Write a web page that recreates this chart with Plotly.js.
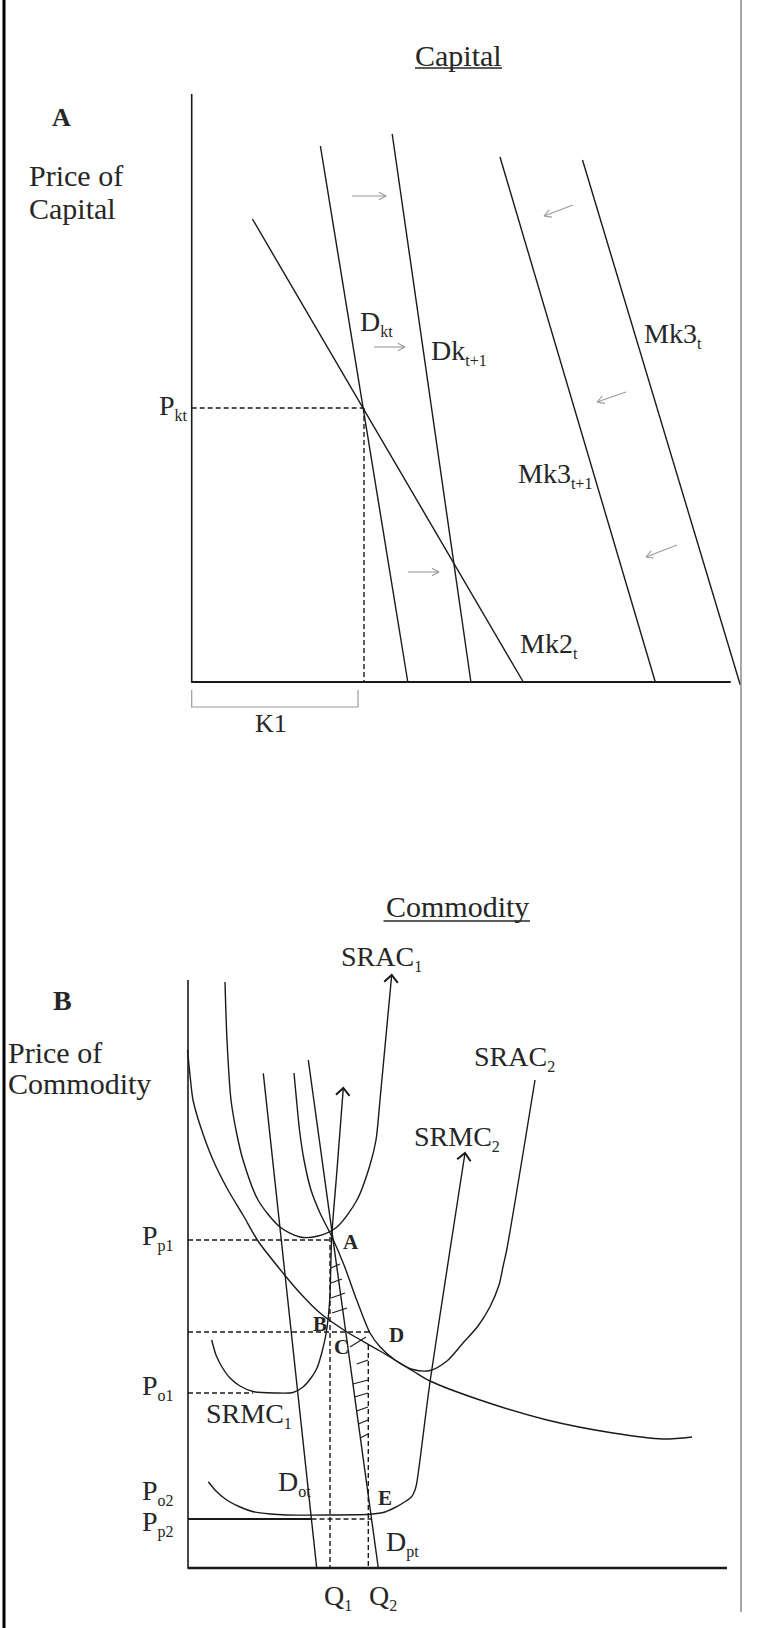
<!DOCTYPE html>
<html><head><meta charset="utf-8">
<script src="https://cdn.plot.ly/plotly-3.0.1.min.js"></script>
<style>html,body{margin:0;padding:0;background:#fff;}#chart{width:762px;height:1628px;}</style>
</head><body><div id="chart"></div>
<script>
// ===== Panel A : Capital =====
const capAxisX = [191.7, 191.7, 730.6];
const capAxisY = [94, 682, 682];
const mk2tX = [252.4, 523.3],  mk2tY = [219, 682];
const dktX = [320.4, 407.8],   dktY = [146, 682];
const dkt1X = [392.2, 470.9],  dkt1Y = [134, 682];
const mk3t1X = [500, 655.3],   mk3t1Y = [157, 682];
const mk3tX = [582.5, 740.3],  mk3tY = [160, 685];
const pktLevel = 408;
const k1Level = 364;
const k1BracketX = [191.7, 191.7, 358, 358];
const k1BracketY = [690, 707, 707, 690];
// shift arrows [x0, y0, x1, y1]
const shiftArrows = [
  [352, 196, 386, 196],
  [573, 205, 544, 216],
  [374, 347, 405, 347],
  [626, 392, 597, 402],
  [408, 572, 439, 572],
  [677, 545, 646, 557]
];

// ===== Panel B : Commodity =====
const comAxisX = [188, 188, 727];
const comAxisY = [980, 1568, 1568];
const lracX = [187.5, 190, 193, 200, 213, 228, 243, 258, 283, 300, 320, 347, 380, 413, 430, 480, 547, 613, 663, 692];
const lracY = [1050, 1075, 1100, 1125, 1160, 1190, 1215, 1241, 1273, 1293, 1313, 1332, 1351, 1371, 1381, 1400, 1420, 1433, 1439, 1437];
const srac1X = [225, 227, 231, 237, 243, 258, 280, 300, 318, 337, 357, 370, 376, 380, 391.7];
const srac1Y = [982, 1040, 1100, 1135, 1160, 1200, 1227, 1237, 1236, 1227, 1200, 1165, 1140, 1100, 975];
const srmc1X = [211.7, 216, 222, 230, 240, 253, 275, 293, 303, 311, 317, 322, 326, 328.5, 330, 331.7, 337, 343.3];
const srmc1Y = [1340, 1355, 1367, 1378, 1386, 1391.5, 1393, 1392.5, 1387, 1378, 1368, 1352, 1334, 1315, 1295, 1237, 1170, 1088];
const srac2X = [294, 296.5, 299.5, 304, 311, 320, 332, 344, 356.7, 370, 380, 395, 413, 430, 447, 463, 478, 490, 499, 503, 506.7, 535];
const srac2Y = [1073, 1100, 1130, 1160, 1190, 1213, 1237, 1265, 1300, 1333, 1346.7, 1360, 1369.5, 1370.5, 1361, 1343, 1326, 1306.7, 1285, 1266.7, 1250, 1080];
const srmc2X = [208.3, 216, 226.7, 240, 253.3, 270, 286.7, 330, 370, 385, 396.7, 406, 411.7, 415, 416.7, 430, 450, 465];
const srmc2Y = [1481.7, 1491, 1500, 1507, 1511.7, 1514, 1515, 1515, 1514.3, 1512, 1506.7, 1501, 1496.7, 1490, 1483.3, 1382, 1250, 1153];
const dotX = [263.3, 316.7], dotY = [1073.3, 1568];
const dptX = [308.3, 378.3], dptY = [1060, 1568];
const pp1Level = 1240, bdLevel = 1332, po1Level = 1393, pp2Level = 1519;
const q1 = 330, q2 = 368.3;
// hatch ticks [x0, y0, x1, y1]
const hatch = [
  [331, 1268, 340, 1264],
  [331, 1283, 342, 1279],
  [331, 1298, 345, 1293],
  [332, 1313, 347, 1308],
  [350, 1347, 366, 1337],
  [356.7, 1364, 368, 1360],
  [353, 1384, 368, 1380],
  [354.5, 1397, 368, 1393],
  [356.5, 1411, 368, 1407],
  [358.3, 1424, 368, 1420],
  [360.2, 1438, 368, 1434]
];

const INK = '#1a1a1a';
const TXT = '#262626';
const FONT = 'Liberation Serif, Times New Roman, serif';

const traces = [];
function line(x, y, opt) {
  opt = opt || {};
  traces.push({
    type: 'scatter', mode: 'lines', x: x, y: y, hoverinfo: 'skip', showlegend: false,
    line: {color: opt.color || INK, width: opt.width || 1.4, dash: opt.dash || 'solid',
           shape: opt.spline ? 'spline' : 'linear', smoothing: opt.spline ? 0.8 : undefined}
  });
}
function chevron(x0, y0, x1, y1, L, ang) {
  const dx = x1 - x0, dy = y1 - y0, d = Math.hypot(dx, dy);
  const ux = dx / d, uy = dy / d;
  const c = Math.cos(ang), s = Math.sin(ang);
  const ax = ux * c - uy * s, ay = ux * s + uy * c;
  const bx = ux * c + uy * s, by = -ux * s + uy * c;
  return {x: [x1 - L * ax, x1, x1 - L * bx], y: [y1 - L * ay, y1, y1 - L * by]};
}
function curveArrow(x, y) {
  const n = x.length;
  const h = chevron(x[n - 2], y[n - 2], x[n - 1], y[n - 1], 10, 0.75);
  line(h.x, h.y, {width: 2});
}

// Panel A
line(capAxisX, capAxisY, {width: 1.6});
line([capAxisX[1], capAxisX[2]], [capAxisY[1], capAxisY[2]], {width: 2.2});
line(mk2tX, mk2tY);
line(dktX, dktY);
line(dkt1X, dkt1Y);
line(mk3t1X, mk3t1Y);
line(mk3tX, mk3tY);
line([capAxisX[0], k1Level], [pktLevel, pktLevel], {dash: '5px,3px'});
line([k1Level, k1Level], [pktLevel, capAxisY[1]], {dash: '5px,3px'});
line(k1BracketX, k1BracketY, {color: '#9a9a9a', width: 1.2});
shiftArrows.forEach(a => {
  line([a[0], a[2]], [a[1], a[3]], {color: '#9a9a9a', width: 1.1});
  const h = chevron(a[0], a[1], a[2], a[3], 8, 0.5);
  line(h.x, h.y, {color: '#9a9a9a', width: 1.1});
});

// Panel B
line(comAxisX, comAxisY, {width: 1.6});
line([comAxisX[1], comAxisX[2]], [comAxisY[1], comAxisY[2]], {width: 2.4});
line(lracX, lracY, {spline: true});
line(srac1X, srac1Y, {spline: true});
curveArrow(srac1X, srac1Y);
line(srmc1X, srmc1Y, {spline: true});
curveArrow(srmc1X, srmc1Y);
line(srac2X, srac2Y, {spline: true});
line(srmc2X, srmc2Y, {spline: true});
curveArrow(srmc2X, srmc2Y);
line(dotX, dotY);
line(dptX, dptY);
line([comAxisX[0], q1], [pp1Level, pp1Level], {dash: '5px,3px'});
line([comAxisX[0], 370], [bdLevel, bdLevel], {dash: '5px,3px'});
line([comAxisX[0], 253], [po1Level, po1Level], {dash: '5px,3px'});
line([comAxisX[0], 311.5], [pp2Level, pp2Level], {width: 2});
line([311.5, 371], [pp2Level, pp2Level], {dash: '5px,3px'});
line([q1, q1], [1237, comAxisY[1]], {dash: '5px,3px'});
line([q2, q2], [1345, comAxisY[1]], {dash: '5px,3px'});
hatch.forEach(h => line([h[0], h[2]], [h[1], h[3]], {width: 1.1}));

// Labels
function s(t) { return '<sub><span style="font-size:16px">' + t + '</span></sub>'; }
const labels = [
  ['Capital', 458.5, 55, 30, 'center'],
  ['<b>A</b>', 51, 117, 26, 'left'],
  ['Price of', 28, 175, 30, 'left'],
  ['Capital', 28, 208, 30, 'left'],
  ['P' + s('kt'), 158, 407, 28, 'left'],
  ['D' + s('kt'), 359, 323, 28, 'left'],
  ['Dk' + s('t+1'), 430, 352, 28, 'left'],
  ['Mk3' + s('t'), 643, 335, 28, 'left'],
  ['Mk3' + s('t+1'), 517, 475, 28, 'left'],
  ['Mk2' + s('t'), 519, 645, 28, 'left'],
  ['K1', 271, 723, 26, 'center'],
  ['Commodity', 457, 906, 30, 'center'],
  ['SRAC' + s('1'), 340, 958, 28, 'left'],
  ['<b>B</b>', 52, 1000, 28, 'left'],
  ['Price of', 7, 1052, 30, 'left'],
  ['Commodity', 7, 1083, 30, 'left'],
  ['SRAC' + s('2'), 473, 1058, 28, 'left'],
  ['SRMC' + s('2'), 413, 1138, 28, 'left'],
  ['P' + s('p1'), 141, 1237, 28, 'left'],
  ['P' + s('o1'), 141, 1387, 28, 'left'],
  ['SRMC' + s('1'), 205, 1415, 28, 'left'],
  ['P' + s('o2'), 141, 1492, 28, 'left'],
  ['P' + s('p2'), 141, 1523, 28, 'left'],
  ['D' + s('ot'), 277, 1483, 28, 'left'],
  ['D' + s('pt'), 385, 1543, 28, 'left'],
  ['Q' + s('1'), 323, 1597, 28, 'left'],
  ['Q' + s('2'), 368, 1597, 28, 'left'],
  ['<b>A</b>', 342, 1242, 21, 'left'],
  ['<b>B</b>', 312, 1324, 21, 'left'],
  ['<b>C</b>', 333, 1347, 21, 'left'],
  ['<b>D</b>', 388, 1335, 21, 'left'],
  ['<b>E</b>', 377, 1498, 21, 'left']
];
const annotations = labels.map(l => ({
  text: l[0], x: l[1], y: l[2], xref: 'x', yref: 'y', showarrow: false,
  xanchor: l[4], yanchor: 'middle', font: {family: FONT, size: l[3], color: TXT}, borderpad: 0
}));

const shapes = [
  {type: 'line', xref: 'x', yref: 'y', x0: 415, x1: 502, y0: 68, y1: 68, line: {color: TXT, width: 1.5}},
  {type: 'line', xref: 'x', yref: 'y', x0: 383.5, x1: 530, y0: 921, y1: 921, line: {color: TXT, width: 1.5}},
  {type: 'line', xref: 'x', yref: 'y', x0: 4, x1: 4, y0: 0, y1: 1628, line: {color: '#000', width: 3}},
  {type: 'line', xref: 'x', yref: 'y', x0: 741, x1: 741, y0: 0, y1: 1612, line: {color: '#8a8a8a', width: 1.5}}
];

const layout = {
  width: 762, height: 1628, margin: {l: 0, r: 0, t: 0, b: 0, pad: 0},
  paper_bgcolor: '#fff', plot_bgcolor: '#fff', showlegend: false,
  xaxis: {range: [0, 762], visible: false, fixedrange: true},
  yaxis: {range: [1628, 0], visible: false, fixedrange: true},
  annotations: annotations, shapes: shapes
};
Plotly.newPlot('chart', traces, layout, {displayModeBar: false});
</script></body></html>
